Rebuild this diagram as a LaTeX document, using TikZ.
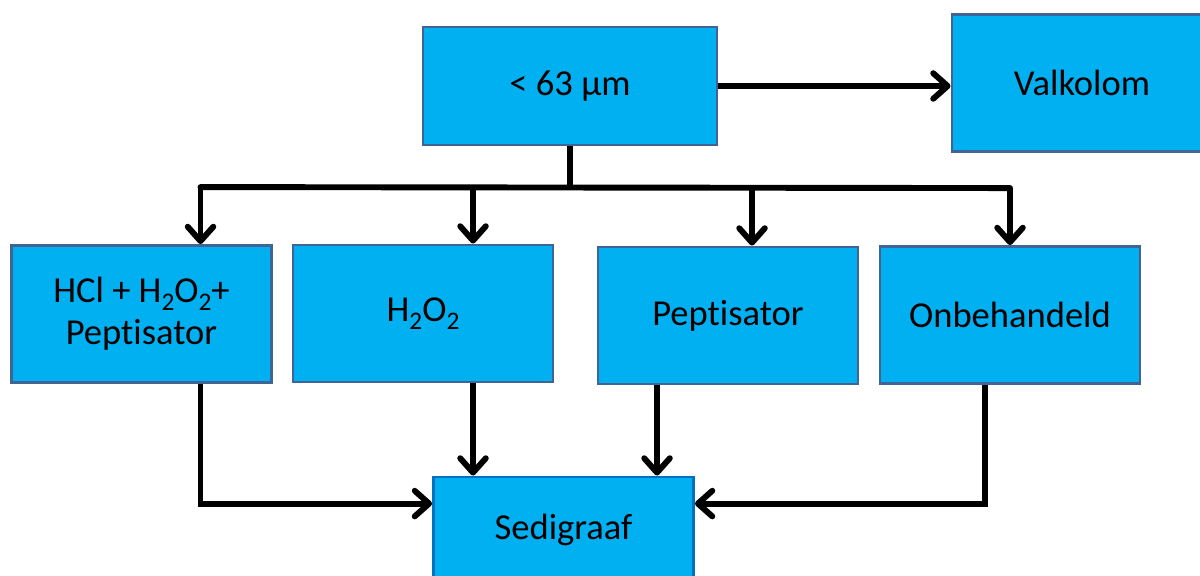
\documentclass[tikz,border=0pt]{standalone}
\usepackage{fontspec}
\setmainfont{Carlito}[RawFeature={-liga;-clig;-calt;-dlig}]
\usepackage{tikz}
\usetikzlibrary{arrows.meta,calc}
\tikzset{>={Straight Barb[length=3.6mm,width=6.4mm,round]}}
\definecolor{boxfill}{RGB}{0,176,240}
\definecolor{boxline}{RGB}{65,100,150}
\definecolor{sedline}{RGB}{0,112,192}
\newcommand\chemsub[1]{\raisebox{-0.45ex}{\fontsize{18}{18}\selectfont #1}}

\begin{document}
\begin{tikzpicture}[x=0.025cm, y=-0.025cm,
		box/.style={rectangle, draw=boxline, fill=boxfill, line width=2pt, minimum width=6.5cm, minimum height=3.425cm, align=center, font=\fontsize{26}{30}\selectfont},
		flow/.style={->, line width=4.2pt}]
		\useasboundingbox (0,0) rectangle (1200,576);
		\node[box, minimum width=7.35cm, minimum height=2.95cm] (top) at (570,86) {< 63 µm};
		\node[box] (val) at (1082,83) {Valkolom};
		\node[box] (m1) at (141.5,314) {HCl + H\chemsub{2}O\chemsub{2}+\\Peptisator};
		\node[box] (m2) at (423,313.5) {H\chemsub{2}O\chemsub{2}};
		\node[box] (m3) at (728,315.5) {Peptisator};
		\node[box] (m4) at (1010,315) {Onbehandeld};
		\node[box, draw=sedline, minimum height=2.65cm] (sed) at (563.5,530) {Sedigraaf};
		% splitter under the top box
		\draw[line width=4.2pt] (top.south) -- ++(0,42) coordinate (bus);
		\draw[line width=4.2pt, line cap=round] ($(m1.north)+(59,-57)$) -- ($(m4.north)+(0,-57)$);
		\draw[flow] (top.east) -- (top.east -| val.west);
		\draw[flow] ($(m1.north)+(59,-57)$) -- ($(m1.north)+(59,0)$);
		\draw[flow] ($(m2.north)+(50,-57)$) -- ($(m2.north)+(50,0)$);
		\draw[flow] ($(m3.north)+(24,-57)$) -- ($(m3.north)+(24,0)$);
		\draw[flow] ($(m4.north)+(0,-57)$) -- (m4.north);
		% into the sedigraph
		\draw[flow] ($(m1.south)+(59,0)$) |- ($(sed.north west)+(0,28)$);
		\draw[flow] ($(m2.south)+(50,0)$) coordinate (b2) -- (b2 |- sed.north);
		\draw[flow] ($(m3.south)+(-71,0)$) coordinate (b3) -- (b3 |- sed.north);
		\draw[flow] ($(m4.south)+(-25,0)$) |- ($(sed.north east)+(0,28)$);
	\end{tikzpicture}
\end{document}
